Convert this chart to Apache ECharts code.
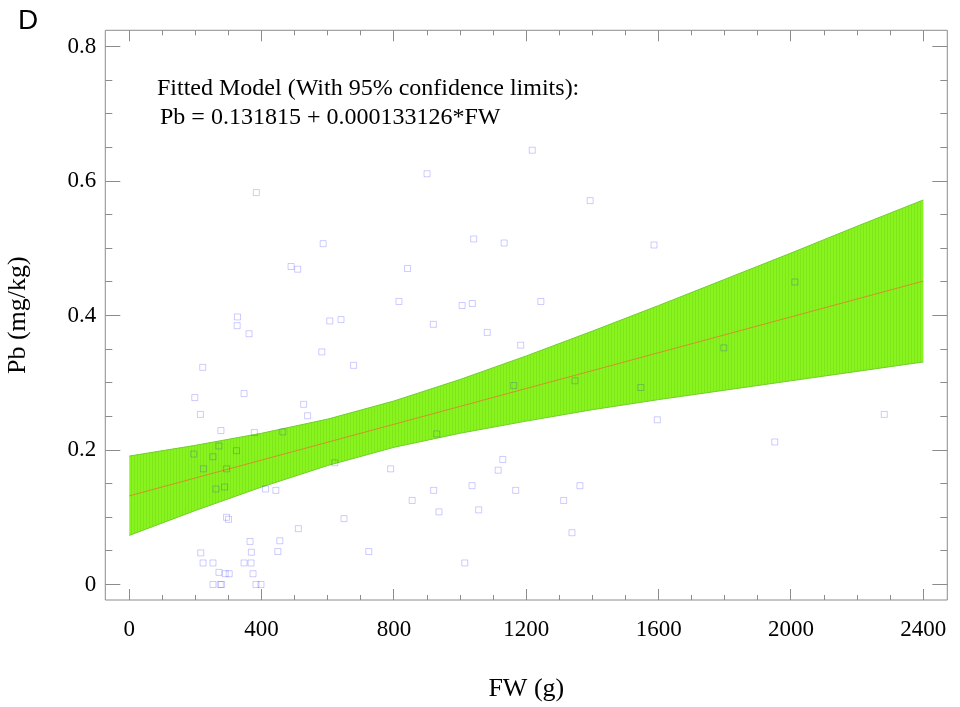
<!DOCTYPE html>
<html>
<head>
<meta charset="utf-8">
<script src="https://cdn.jsdelivr.net/npm/echarts@6/dist/echarts.min.js"></script>
<style>
html,body{margin:0;padding:0;background:#fff;}
#chart{width:960px;height:707px;}
</style>
</head>
<body>
<div id="chart"></div>
<script>
// Observed data points (FW in g, Pb in mg/kg)
const obsFW = [384,586,489,509,327,326,362,606,640,582,222,198,347,
  527,539,215,277,378,464,271,195,253,324,224,294,262,288,412,443,621,294,300,511,365,455,369,449,216,223,253,347,368,271,290,302,374,253,275,279,383,398,
  900,1041,1133,841,815,1006,1037,1244,919,1082,1183,678,1162,
  929,790,1129,1115,920,1036,1168,855,936,1056,649,724,1014,
  1218,1393,1586,1797,1347,1546,1596,1951,1362,1313,1338,2012,2282];
const obsPb = [0.583,0.507,0.473,0.469,0.398,0.385,0.373,0.392,0.394,0.346,0.323,0.278,0.284,
  0.268,0.251,0.253,0.229,0.226,0.227,0.206,0.194,0.190,0.199,0.172,0.172,0.142,0.145,0.142,0.140,0.181,0.100,0.097,0.083,0.064,0.065,0.048,0.049,0.047,0.032,0.032,0.032,0.032,0.018,0.016,0.016,0.016,0,0,0,0,0,
  0.611,0.514,0.508,0.470,0.421,0.415,0.418,0.421,0.387,0.375,0.356,0.326,0.296,
  0.224,0.172,0.186,0.170,0.140,0.147,0.140,0.125,0.108,0.111,0.098,0.049,0.032,
  0.646,0.571,0.505,0.352,0.303,0.293,0.245,0.212,0.147,0.125,0.077,0.450,0.253];

// Fitted line endpoints
const fitFW = [0, 2400];
const fitPb = [0.1318, 0.4513];

// 95% confidence band
const bandFW    = [0,     200,   400,   600,   800,   1000,  1200,  1400,  1600,  1800,  2000,  2200,  2400];
const bandUpper = [0.191, 0.207, 0.225, 0.246, 0.273, 0.305, 0.340, 0.377, 0.415, 0.454, 0.493, 0.533, 0.572];
const bandLower = [0.073, 0.110, 0.145, 0.177, 0.204, 0.225, 0.243, 0.260, 0.275, 0.289, 0.303, 0.317, 0.331];

// Axis ticks and labels
const xTicks = [0, 400, 800, 1200, 1600, 2000, 2400];
const xTickLabels = ['0', '400', '800', '1200', '1600', '2000', '2400'];
const yTicks = [0, 0.2, 0.4, 0.6, 0.8];
const yTickLabels = ['0', '0.2', '0.4', '0.6', '0.8'];

// Frame (plot box) extent in data units
const xRange = [-72.5, 2472.5];
const yRange = [-0.0231, 0.8244];

const chart = echarts.init(document.getElementById('chart'), null, {renderer: 'canvas'});

// stripe pattern for the band
const pc = document.createElement('canvas');
pc.width = 3; pc.height = 4;
const pctx = pc.getContext('2d');
pctx.fillStyle = '#88f41e'; pctx.fillRect(0, 0, 3, 4);
pctx.fillStyle = '#7fe61c'; pctx.fillRect(2, 0, 1, 4);

const scatterData = obsFW.map((x, i) => [x, obsPb[i]]);
const fitData = fitFW.map((x, i) => [x, fitPb[i]]);

const tickColor = '#8c8c8c';
const serif = '"Liberation Serif", "Times New Roman", serif';

// tick positions (majors + 3 minor subdivisions)
function withMinor(ticks) {
  const out = [];
  for (let i = 0; i < ticks.length; i++) {
    out.push({v: ticks[i], major: true, label: i});
    if (i < ticks.length - 1) {
      const step = (ticks[i + 1] - ticks[i]) / 4;
      for (let k = 1; k < 4; k++) out.push({v: ticks[i] + step * k, major: false, label: -1});
    }
  }
  return out;
}
const xTickAll = withMinor(xTicks);
const yTickAll = withMinor(yTicks);
const crisp = v => Math.round(v - 0.5) + 0.5;

const option = {
  animation: false,
  backgroundColor: '#fff',
  grid: {left: 105.3, top: 30.3, right: 12.7, bottom: 107, containLabel: false, outerBoundsMode: 'none',
    show: true, borderColor: tickColor, borderWidth: 1, backgroundColor: 'transparent'},
  xAxis: {
    type: 'value', min: xRange[0], max: xRange[1],
    axisLine: {show: false}, axisTick: {show: false}, axisLabel: {show: false}, splitLine: {show: false},
    name: 'FW (g)', nameLocation: 'middle', nameGap: 76,
    nameTextStyle: {fontFamily: serif, fontSize: 26, color: '#000'}
  },
  yAxis: {
    type: 'value', min: yRange[0], max: yRange[1],
    axisLine: {show: false}, axisTick: {show: false}, axisLabel: {show: false}, splitLine: {show: false},
    name: 'Pb (mg/kg)', nameLocation: 'middle', nameGap: 74, nameRotate: 90,
    nameTextStyle: {fontFamily: serif, fontSize: 26, color: '#000'}
  },
  series: [
    {
      type: 'custom', clip: false, silent: true,
      data: [[bandFW[0], bandLower[0]]],
      renderItem: function (params, api) {
        const up = bandFW.map((x, i) => api.coord([x, bandUpper[i]]));
        const lo = bandFW.map((x, i) => api.coord([x, bandLower[i]]));
        const poly = up.concat(lo.slice().reverse());
        return {
          type: 'group',
          children: [
            {type: 'polygon', shape: {points: poly}, style: {fill: {image: pc, repeat: 'repeat'}, stroke: null}},
            {type: 'polyline', shape: {points: up}, style: {fill: null, stroke: '#6fd02a', lineWidth: 1}},
            {type: 'polyline', shape: {points: lo}, style: {fill: null, stroke: '#6fd02a', lineWidth: 1}}
          ]
        };
      },
      z: 1
    },
    {
      type: 'line', data: fitData, symbol: 'none', silent: true,
      lineStyle: {color: '#d4902c', width: 1}, z: 2
    },
    {
      type: 'scatter', data: scatterData, symbol: 'rect', symbolSize: 6,
      itemStyle: {color: 'rgba(0,0,0,0)', borderColor: 'rgba(0,0,255,0.25)', borderWidth: 1}, z: 3
    },
    // x-axis ticks (bottom and top edges) and labels
    {
      type: 'custom', clip: false, silent: true, z: 4,
      data: xTickAll.map(t => [t.v, yRange[0]]),
      renderItem: function (params, api) {
        const t = xTickAll[params.dataIndex];
        const pb = api.coord([t.v, yRange[0]]);
        const pt = api.coord([t.v, yRange[1]]);
        const x = crisp(pb[0]);
        const len = t.major ? 11 : 5;
        const children = [
          {type: 'line', shape: {x1: x, y1: pb[1], x2: x, y2: pb[1] - len}, style: {stroke: tickColor, lineWidth: 1}},
          {type: 'line', shape: {x1: x, y1: pt[1], x2: x, y2: pt[1] + len}, style: {stroke: tickColor, lineWidth: 1}}
        ];
        if (t.major) {
          children.push({type: 'text', x: pb[0], y: pb[1] + 18,
            style: {text: xTickLabels[t.label], font: '23px ' + serif, fill: '#000', align: 'center', verticalAlign: 'top'}});
        }
        return {type: 'group', children: children};
      }
    },
    // y-axis ticks (left and right edges) and labels
    {
      type: 'custom', clip: false, silent: true, z: 4,
      data: yTickAll.map(t => [xRange[0], t.v]),
      renderItem: function (params, api) {
        const t = yTickAll[params.dataIndex];
        const pl = api.coord([xRange[0], t.v]);
        const pr = api.coord([xRange[1], t.v]);
        const y = crisp(pl[1]);
        const len = t.major ? 15 : 7;
        const children = [
          {type: 'line', shape: {x1: pl[0], y1: y, x2: pl[0] + len, y2: y}, style: {stroke: tickColor, lineWidth: 1}},
          {type: 'line', shape: {x1: pr[0], y1: y, x2: pr[0] - len, y2: y}, style: {stroke: tickColor, lineWidth: 1}}
        ];
        if (t.major) {
          children.push({type: 'text', x: pl[0] - 9, y: pl[1],
            style: {text: yTickLabels[t.label], font: '23px ' + serif, fill: '#000', align: 'right', verticalAlign: 'middle'}});
        }
        return {type: 'group', children: children};
      }
    }
  ],
  graphic: [
    {type: 'text', left: 18, top: 7, style: {text: 'D', font: '28px "Liberation Sans", Arial, sans-serif', fill: '#000'}},
    {type: 'text', x: 157, y: 88.5, style: {text: 'Fitted Model (With 95% confidence limits):', font: '24px ' + serif, fill: '#000', verticalAlign: 'middle'}},
    {type: 'text', x: 160, y: 118, style: {text: 'Pb = 0.131815 + 0.000133126*FW', font: '24px ' + serif, fill: '#000', verticalAlign: 'middle'}}
  ]
};
chart.setOption(option);
</script>
</body>
</html>
